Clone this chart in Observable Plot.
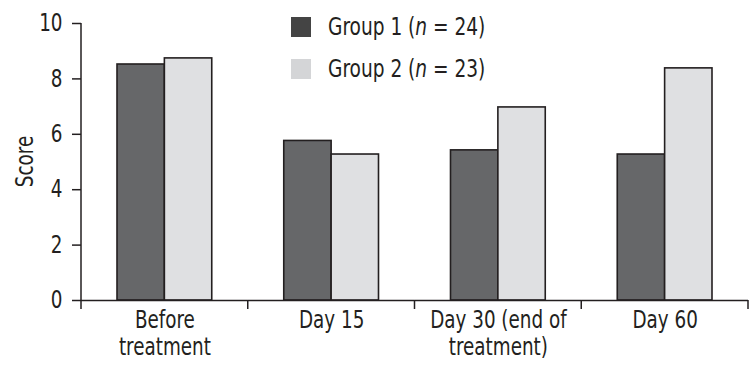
<!DOCTYPE html>
<html>
<head>
<meta charset="utf-8">
<script src="https://cdn.jsdelivr.net/npm/d3@7"></script>
<script src="https://cdn.jsdelivr.net/npm/@observablehq/plot@0.6"></script>
<style>
  html, body { margin: 0; padding: 0; background: #fff; }
  #wrap { position: relative; width: 753px; height: 367px; font-family: "DejaVu Sans Condensed", "Liberation Sans Narrow", sans-serif; color: #231f20; }
  .legend { position: absolute; left: 291px; top: 14px; font-size: 24px; line-height: 26px; }
  .legend .row { display: flex; align-items: center; height: 26px; margin-bottom: 16px; white-space: nowrap; }
  .legend .sw { width: 20px; height: 20px; margin-right: 17px; flex: none; }
  .legend .lab { display: inline-block; transform: scaleX(0.86); transform-origin: left center; }
</style>
</head>
<body>
<div id="wrap"></div>
<script>
const categories = ["Before\ntreatment", "Day 15", "Day 30 (end of\ntreatment)", "Day 60"];
const groups = ["Group 1", "Group 2"];
const groupN = [24, 23];
const group1 = [8.52, 5.76, 5.42, 5.27];
const group2 = [8.74, 5.27, 6.97, 8.38];
const barFills = ["#666769", "#dfe0e2"];
const swatchFills = ["#444444", "#d4d5d7"];
const yTicks = [0, 2, 4, 6, 8, 10];

const data = [];
categories.forEach((c, i) => {
  data.push({category: c, group: groups[0], value: group1[i]});
  data.push({category: c, group: groups[1], value: group2[i]});
});

const ink = "#231f20";
const fontSize = 24;
const squeeze = 0.85;
let decorDrawn = false;

const chart = Plot.plot({
  width: 753,
  height: 367,
  marginLeft: 81,
  marginRight: 5,
  marginTop: 23,
  marginBottom: 67,
  style: {fontFamily: '"DejaVu Sans Condensed", "Liberation Sans Narrow", sans-serif', fontSize: fontSize + "px", color: ink, background: "#fff", overflow: "visible"},
  fx: {domain: categories, padding: 0, axis: null, round: false},
  x: {domain: groups, paddingInner: 0, paddingOuter: 0.76, axis: null, round: false},
  y: {domain: [0, 10], axis: null},
  color: {domain: groups, range: barFills},
  marks: [
    Plot.barY(data, {fx: "category", x: "group", y: "value", fill: "group", stroke: ink, strokeWidth: 1.6}),
    Plot.ruleY([0], {stroke: ink, strokeWidth: 1.5}),
    Plot.axisY({ticks: yTicks, tickSize: 9, tickPadding: 10, stroke: ink, strokeWidth: 1.5, label: null, fontSize: fontSize}),
    Plot.axisFx({anchor: "bottom", tickSize: 0, tickPadding: 9, lineHeight: 1.1, fontSize: fontSize, label: null}),
    (index, scales, values, dimensions) => {
      if (decorDrawn) return null;
      decorDrawn = true;
      const g = d3.create("svg:g").attr("stroke", ink).attr("stroke-width", 1.5).attr("fill", "none");
      const fx = scales.fx;
      const y0 = scales.y(0);
      const y1 = scales.y(10);
      const left = fx(categories[0]);
      g.append("line").attr("x1", left).attr("x2", left).attr("y1", y1).attr("y2", y0 + 9);
      categories.forEach(c => {
        const xr = fx(c) + fx.bandwidth();
        g.append("line").attr("x1", xr).attr("x2", xr).attr("y1", y0).attr("y2", y0 + 9);
      });
      g.append("text")
        .attr("stroke", "none").attr("fill", ink)
        .attr("font-size", fontSize)
        .attr("text-anchor", "middle")
        .attr("transform", `translate(33,${(y0 + y1) / 2}) rotate(-90)`)
        .text("Score");
      return g.node();
    }
  ]
});

// narrow the glyphs horizontally to resemble the condensed typeface of the original
d3.select(chart).selectAll("text").each(function() {
  const t = this.getAttribute("transform") || "";
  this.setAttribute("transform", (t + ` scale(${squeeze},1)`).trim());
});
d3.select(chart).selectAll("text[x], text tspan[x]").each(function() {
  const x = this.getAttribute("x");
  if (x != null && x !== "") this.setAttribute("x", +x / squeeze);
});

const wrap = document.getElementById("wrap");
wrap.appendChild(chart);

const legend = document.createElement("div");
legend.className = "legend";
groups.forEach((gname, i) => {
  const row = document.createElement("div");
  row.className = "row";
  const sw = document.createElement("span");
  sw.className = "sw";
  sw.style.background = swatchFills[i];
  const label = document.createElement("span");
  label.className = "lab";
  label.innerHTML = `${gname} (<i>n</i> = ${groupN[i]})`;
  row.appendChild(sw);
  row.appendChild(label);
  legend.appendChild(row);
});
wrap.appendChild(legend);
</script>
</body>
</html>
